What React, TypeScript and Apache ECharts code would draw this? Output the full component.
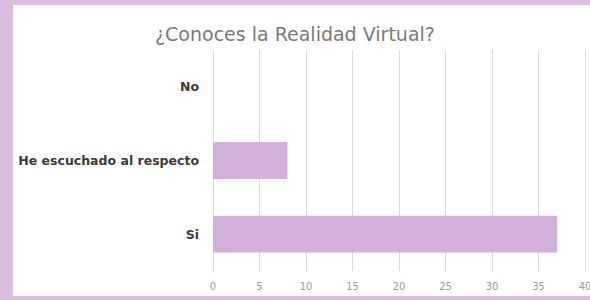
import React, { useEffect, useRef } from "react";
import * as echarts from "echarts";

const categories = ["Si", "He escuchado al respecto", "No"];
const values = [37, 8, 0];
const titleText = "¿Conoces la Realidad Virtual?";

export default function App() {
  const ref = useRef<HTMLDivElement>(null);
  useEffect(() => {
    if (!ref.current) return;
    const chart = echarts.init(ref.current, null, { renderer: "svg" });
    chart.setOption({
      animation: false,
      backgroundColor: "#ffffff",
      graphic: [
        {
          type: "text",
          left: 142,
          top: 19,
          style: {
            text: titleText,
            fontFamily: "DejaVu Sans",
            fontSize: 19,
            fontWeight: "normal",
            fill: "#7a7a7a",
          },
        },
      ],
      grid: { left: 200, right: 5, top: 45, bottom: 25, containLabel: false, outerBoundsMode: "none" },
      xAxis: {
        type: "value",
        min: 0,
        max: 40,
        interval: 5,
        axisLine: { show: false },
        axisTick: { show: false },
        splitLine: { show: true, lineStyle: { color: "#dcdcdc", width: 1 } },
        axisLabel: { color: "#9a9a9a", fontFamily: "DejaVu Sans", fontSize: 10, margin: 10 },
      },
      yAxis: {
        type: "category",
        data: categories,
        axisLine: { show: false },
        axisTick: { show: false },
        axisLabel: { color: "#3a3a3a", fontFamily: "DejaVu Sans", fontSize: 12.5, fontWeight: "bold", margin: 14 },
      },
      series: [
        {
          type: "bar",
          data: values,
          barCategoryGap: "50%",
          itemStyle: { color: "#d1b0da" },
        },
      ],
    });
    return () => chart.dispose();
  }, []);
  return (
    <div style={{ position: "fixed", left: 0, top: 0, width: 590, height: 300, background: "#dbbfe3" }}>
      <div ref={ref} style={{ position: "absolute", left: 13, top: 5, width: 577, height: 291 }} />
    </div>
  );
}
